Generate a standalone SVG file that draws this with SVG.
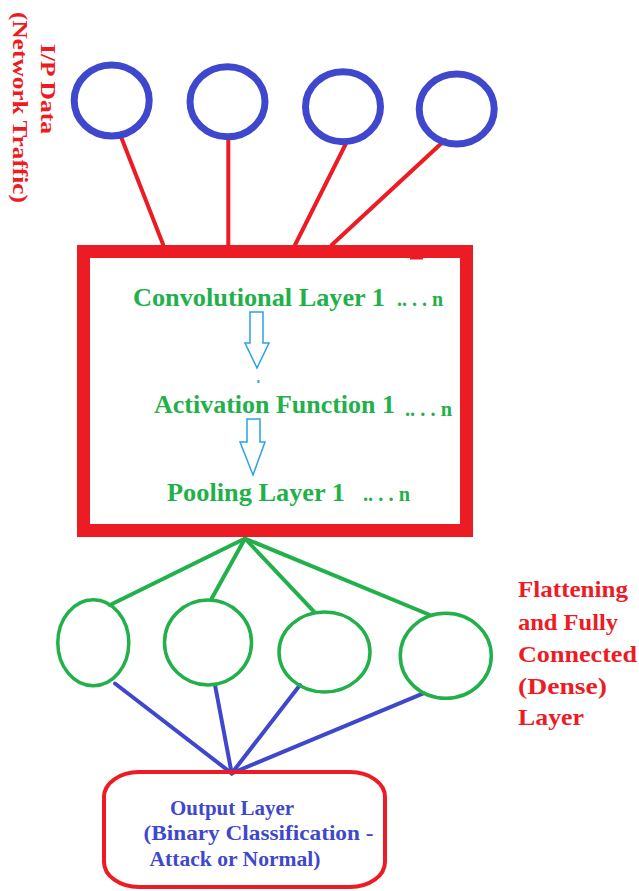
<svg xmlns="http://www.w3.org/2000/svg" width="639" height="891" viewBox="0 0 639 891">
<style>
.t{font-family:'Liberation Serif','DejaVu Serif','Times New Roman',serif;font-weight:700}
.red{fill:#ed1c24}
.grn{fill:#22b04a}
.blu{fill:#3f48cc}
.inN{fill:none;stroke:#3f48cc;stroke-width:7}
.dN{fill:none;stroke:#22b04a;stroke-width:3.5}
.rl{stroke:#ed1c24;stroke-width:4;stroke-linecap:round}
.gl{stroke:#22b04a;stroke-width:4;stroke-linecap:round}
.bl{stroke:#3f48cc;stroke-width:4;stroke-linecap:round}
.arr{fill:#fff;stroke:#29a3e6;stroke-width:1.5}
</style>
<rect width="639" height="891" fill="#fff"/>
<g id="connectors">
<line class="rl" x1="121.7" y1="138.5" x2="163.3" y2="245"/>
<line class="rl" x1="228.3" y1="137" x2="228.3" y2="245"/>
<line class="rl" x1="346" y1="143.5" x2="295" y2="245"/>
<line class="rl" x1="445" y1="140" x2="331.7" y2="245"/>
<line class="gl" x1="245" y1="538.5" x2="110" y2="605"/>
<line class="gl" x1="245" y1="538.5" x2="211.7" y2="598.5"/>
<line class="gl" x1="245" y1="538.5" x2="314" y2="611.7"/>
<line class="gl" x1="245" y1="538.5" x2="430" y2="615"/>
<line class="bl" x1="115" y1="683.5" x2="231.7" y2="773.3"/>
<line class="bl" x1="215" y1="685" x2="231.7" y2="773.3"/>
<line class="bl" x1="300" y1="685" x2="231.7" y2="773.3"/>
<line class="bl" x1="423.3" y1="693.3" x2="231.7" y2="773.3"/>
</g>
<g id="input-label">
<text class="t red" font-size="22" transform="translate(41,44) rotate(90)" textLength="90" lengthAdjust="spacingAndGlyphs">I/P Data</text>
<text class="t red" font-size="22" transform="translate(13,12) rotate(90)" textLength="191" lengthAdjust="spacingAndGlyphs">(Network Traffic)</text>
</g>
<g id="in1"><ellipse class="inN" cx="111.7" cy="100.5" rx="37.5" ry="35.5"/></g>
<g id="in2"><ellipse class="inN" cx="227.5" cy="101.7" rx="37.5" ry="35"/></g>
<g id="in3"><ellipse class="inN" cx="343" cy="106.7" rx="37.5" ry="35"/></g>
<g id="in4"><ellipse class="inN" cx="456.7" cy="109" rx="37.5" ry="35"/></g>
<g id="cnn-box">
<rect x="83.5" y="251.5" width="383" height="279" fill="none" stroke="#ed1c24" stroke-width="13"/>
<rect x="410" y="257" width="13" height="2.5" fill="#ed1c24"/>
<text class="t grn" font-size="26" x="133" y="306" textLength="252" lengthAdjust="spacingAndGlyphs">Convolutional Layer 1</text>
<text class="t grn" font-size="20" x="397" y="306" textLength="46" lengthAdjust="spacingAndGlyphs">.. . . n</text>
<polygon class="arr" points="250,312 263,312 263,343 269,343 257,368 245,343 250,343"/>
<rect x="257.5" y="380" width="2" height="3" fill="#29a3e6"/>
<text class="t grn" font-size="26" x="154" y="412.5" textLength="241" lengthAdjust="spacingAndGlyphs">Activation Function 1</text>
<text class="t grn" font-size="20" x="405" y="416" textLength="47" lengthAdjust="spacingAndGlyphs">.. . . n</text>
<polygon class="arr" points="247,419 260,419 260,442 265,442 253,475 240,442 247,442"/>
<text class="t grn" font-size="26" x="167" y="501" textLength="178" lengthAdjust="spacingAndGlyphs">Pooling Layer 1</text>
<text class="t grn" font-size="20" x="363" y="501" textLength="47" lengthAdjust="spacingAndGlyphs">.. . . n</text>
</g>
<g id="d1"><ellipse class="dN" cx="93.3" cy="642.8" rx="35.5" ry="43"/></g>
<g id="d2"><ellipse class="dN" cx="208" cy="642.5" rx="43.5" ry="42.5"/></g>
<g id="d3"><ellipse class="dN" cx="324.5" cy="652" rx="45.5" ry="40"/></g>
<g id="d4"><ellipse class="dN" cx="445.8" cy="655.8" rx="45.5" ry="42.5"/></g>
<g id="dense-label">
<text class="t red" font-size="24" x="518" y="597" textLength="110" lengthAdjust="spacingAndGlyphs">Flattening</text>
<text class="t red" font-size="24" x="518" y="630" textLength="100" lengthAdjust="spacingAndGlyphs">and Fully</text>
<text class="t red" font-size="24" x="518" y="662" textLength="119" lengthAdjust="spacingAndGlyphs">Connected</text>
<text class="t red" font-size="24" x="518" y="694" textLength="89" lengthAdjust="spacingAndGlyphs">(Dense)</text>
<text class="t red" font-size="24" x="518" y="725" textLength="66" lengthAdjust="spacingAndGlyphs">Layer</text>
</g>
<g id="output">
<rect x="104" y="772" width="281" height="115" rx="35" ry="25" fill="none" stroke="#ed1c24" stroke-width="4"/>
<text class="t blu" font-size="21" x="170" y="815" textLength="124" lengthAdjust="spacingAndGlyphs">Output Layer</text>
<text class="t blu" font-size="21" x="143.5" y="840" textLength="230" lengthAdjust="spacingAndGlyphs">(Binary Classification -</text>
<text class="t blu" font-size="21" x="149.5" y="866" textLength="171" lengthAdjust="spacingAndGlyphs">Attack or Normal)</text>
</g>
</svg>
